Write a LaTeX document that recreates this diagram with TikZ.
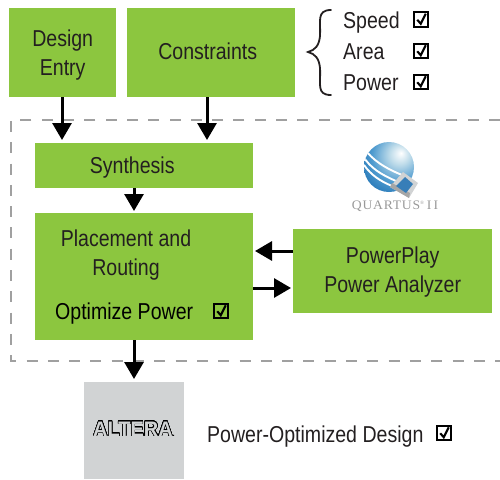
\documentclass[tikz,border=0pt]{standalone}
\usepackage{fontspec}
\setmainfont[FakeStretch=0.85]{Liberation Sans}
\newfontfamily\logofont[FakeStretch=1.05,LetterSpace=6]{Liberation Serif}
\newfontfamily\alterafont[FakeStretch=0.95]{Liberation Sans Bold}
\usepackage[copies]{contour}
\usetikzlibrary{arrows.meta}
\definecolor{boxgreen}{HTML}{8CC63F}
\definecolor{logogray}{HTML}{D1D3D4}
\definecolor{dashgray}{HTML}{A0A0A0}
\definecolor{txtblack}{HTML}{231F20}
\definecolor{ballmid}{HTML}{4F9BCF}
\definecolor{balldark}{HTML}{1467AC}
\definecolor{ballpale}{HTML}{BFDCEA}
\pgfdeclareradialshading{quartusball}{\pgfpoint{12bp}{14bp}}{
  color(0bp)=(white); color(10bp)=(ballpale);
  color(26bp)=(ballmid); color(45bp)=(balldark);
  color(100bp)=(balldark)}
\tikzset{
  greenbox/.style={rectangle,fill=boxgreen,text=txtblack,align=center,font=\fontsize{23}{29}\selectfont,anchor=north west,inner sep=0pt},
  label/.style={text=txtblack,font=\fontsize{23}{29}\selectfont,anchor=base west,inner sep=0pt},
  chk/.style={rectangle,draw=black,line width=1.7pt,minimum size=14.5pt,inner sep=0pt,
    path picture={\draw[line width=2.1pt] ([xshift=3.5pt,yshift=7pt]path picture bounding box.south west)
      --([xshift=7pt,yshift=3pt]path picture bounding box.south west)
      --([xshift=12pt,yshift=13pt]path picture bounding box.south west);}},
  flow/.style={-{Triangle[length=17pt,width=19pt]},line width=3pt,black},
}
\contournumber{32}
\contourlength{0.45pt}
\begin{document}
\begin{tikzpicture}[x=1pt,y=-1pt]
\useasboundingbox (0,0) rectangle (500,479);

\draw[dashgray,line width=2.4pt,dash pattern=on 11pt off 10.3pt] (500,120)--(11,120)--(11,361)--(500,361);

\node[greenbox,minimum width=107pt,minimum height=89pt] (entry) at (9,8) {\rule{0pt}{22pt}Design\\Entry};
\node[greenbox,minimum width=168pt,minimum height=89pt] (constraints) at (127,8) {\rule[-4pt]{0pt}{4pt}Constraints\hspace{7pt}};
\node[greenbox,minimum width=218pt,minimum height=45pt] (synthesis) at (35,143) {\rule{0pt}{21pt}Synthesis\hspace{24pt}};
\node[greenbox,minimum width=218pt,minimum height=127pt] (placement) at (35,213) {};
\node[greenbox,minimum width=199pt,minimum height=84pt] (analyzer) at (293,229) {\rule{0pt}{18pt}PowerPlay\\Power Analyzer\hspace{6pt}};
\node[rectangle,fill=logogray,minimum width=100pt,minimum height=97pt,anchor=north west,inner sep=0pt] (altera) at (84,382) {};

\node[label,align=center,anchor=center] (placetext) at (126,255) {Placement and\\Routing};
\node[label,text=black] (optimize) at (55,319) {Optimize Power};
\node[chk] (optcheck) at (221,311) {};

\draw[flow] (62,97)--(62,140);
\draw[flow] (207,97)--(207,140);
\draw[flow] (134,188)--(134,211);
\draw[flow] (analyzer.west |- 0,251)--(255,251);
\draw[flow] (placement.east |- 0,288)--(291,288);
\draw[flow] (134,340)--(134,379);

% brace
\draw[line width=1.8pt,txtblack,line cap=round] (331,10) .. controls (316,10) and (321,22) .. (320,36)
  .. controls (319,46) and (315,50) .. (308,52) .. controls (315,54) and (319,58) .. (320,68)
  .. controls (321,84) and (316,95) .. (331,95);

\node[label] (speed) at (343,28) {Speed};
\node[chk] (speedcheck) at (421,19.5) {};
\node[label] (area) at (343,59) {Area};
\node[chk] (areacheck) at (421,51) {};
\node[label] (power) at (343,90) {Power};
\node[chk] (powercheck) at (421,82) {};

\node[label] (result) at (207,442) {Power-Optimized Design};
\node[chk] (resultcheck) at (444,433) {};

% quartus logo
\begin{scope}
\clip (389,167) circle (25pt);
\shade[shading=quartusball] (389,167) circle (25pt);
\draw[white,line width=1.9pt] (364,148) .. controls (372,160) and (385,168) .. (402,175);
\draw[white,line width=1.9pt] (363,156) .. controls (370,168) and (382,175) .. (396,181);
\draw[white,line width=1.9pt] (364,165) .. controls (371,175) and (380,181) .. (392,186);
\end{scope}
\fill[logogray] (403,172)--(418,183)--(409,198)--(390,187)--cycle;
\fill[gray!70] (390,187)--(409,198)--(410,193)--(392,183)--cycle;
\fill[balldark!85!white] (405,177)--(413,184)--(406,193)--(396,186)--cycle;
\node[anchor=center,inner sep=0pt,text=gray!80,font=\logofont\fontsize{13}{13}\selectfont] (quartus) at (395,206) {QUARTUS\textsuperscript{\tiny ®}\,I\,I};

\node[anchor=center,inner sep=0pt,font=\alterafont\fontsize{21}{21}\selectfont] (alteralogo) at (134,429) {\contour{black}{\textcolor{logogray}{ALTERA}}\fontsize{8}{8}\selectfont.};
\end{tikzpicture}
\end{document}
